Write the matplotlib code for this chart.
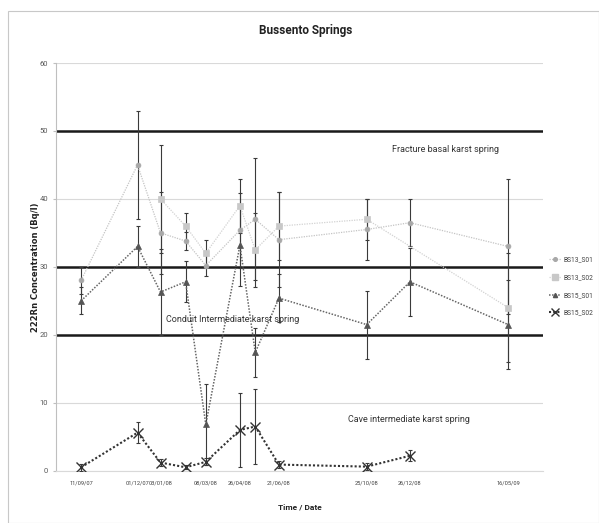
import matplotlib
matplotlib.use("Agg")
import matplotlib.pyplot as plt
import matplotlib.dates as mdates
from matplotlib.patches import Rectangle
import pandas as pd
import numpy as np

plt.rcParams["font.family"] = ["Roboto", "DejaVu Sans"]

DATES = ["11/09/07", "01/12/07", "03/01/08", "08/02/08", "08/03/08", "26/04/08",
         "18/05/08", "21/06/08", "25/10/08", "26/12/08", "16/05/09"]
TICK_DATES = ["11/09/07", "01/12/07", "03/01/08", "08/03/08", "26/04/08",
              "21/06/08", "25/10/08", "26/12/08", "16/05/09"]

# nan = no sample for that date
BS13_S01 = [28.0, 45.0, 35.0, 33.8, 30.2, 35.4, 37.0, 34.0, 35.5, 36.5, 33.0]
BS13_S01_ERR = [2.0, 8.0, 6.0, 1.3, 1.5, 5.5, 9.0, 7.0, 4.5, 3.5, 10.0]
BS13_S02 = [np.nan, np.nan, 40.0, 36.0, 32.0, 39.0, 32.5, 36.0, 37.0, np.nan, 24.0]
BS13_S02_ERR = [0, 0, 8.0, 2.0, 2.0, 4.0, 5.5, 5.0, 3.0, 0, 8.0]
BS15_S01 = [25.0, 33.0, 26.3, 27.8, 6.8, 33.2, 17.4, 25.4, 21.5, 27.8, 21.5]
BS15_S01_ERR = [2.0, 3.0, 6.3, 3.0, 6.0, 6.0, 3.6, 3.5, 5.0, 5.0, 6.5]
BS15_S02 = [0.5, 5.6, 1.2, 0.5, 1.3, 6.0, 6.5, 0.9, 0.6, 2.2, np.nan]
BS15_S02_ERR = [0.5, 1.5, 0.5, 0.3, 0.5, 5.5, 5.5, 0.5, 0.5, 0.8, 0]

LIMITS = [50, 30, 20]
NOTES = [("Fracture basal karst spring", "15/02/09", 47.3),
         ("Conduit Intermediate karst spring", "16/04/08", 22.2),
         ("Cave intermediate karst spring", "25/12/08", 7.6)]

x = pd.to_datetime(DATES, format="%d/%m/%y")

fig = plt.figure(figsize=(5.99, 5.23), dpi=100)
fig.patches.append(Rectangle((0.014, 0.0), 0.986, 0.979, transform=fig.transFigure,
                             fill=False, edgecolor="#c8c8c8", lw=0.8))
ax = fig.add_axes([0.0935, 0.100, 0.813, 0.7795])

series = [
    ("BS13_S01", BS13_S01, BS13_S01_ERR, "o", "#a8a8a8", "#c4c4c4", 3.5, 0.9),
    ("BS13_S02", BS13_S02, BS13_S02_ERR, "s", "#c8c8c8", "#d2d2d2", 5, 0.9),
    ("BS15_S01", BS15_S01, BS15_S01_ERR, "^", "#555555", "#666666", 4, 1.1),
    ("BS15_S02", BS15_S02, BS15_S02_ERR, "x", "#333333", "#333333", 7, 1.5),
]
for name, y, err, mk, mc, lc, ms, lw in series:
    y = np.array(y)
    ok = ~np.isnan(y)
    ax.errorbar(x[ok], y[ok], yerr=np.array(err)[ok], fmt="none", ecolor="#3a3a3a",
                elinewidth=0.8, capsize=1.5, capthick=0.8, zorder=3)
    ax.plot(x[ok], y[ok], linestyle=(0, (1, 1)), color=lc, lw=lw, zorder=4)
    ax.plot(x[ok], y[ok], linestyle="none", marker=mk, color=mc, ms=ms,
            mew=1.0 if mk == "x" else 0.5, zorder=5)
    # legend handle
    ax.plot([], [], linestyle=(0, (1, 1)), color=lc, lw=lw, marker=mk, ms=ms * 0.75,
            markerfacecolor=mc, markeredgecolor=mc, label=name)

for v in LIMITS:
    ax.axhline(v, color="#1a1a1a", lw=1.8, zorder=2)

for txt, d, v in NOTES:
    ax.text(pd.to_datetime(d, format="%d/%m/%y"), v, txt, ha="center", va="center",
            fontsize=6.5, color="#333333", zorder=6)

ax.set_ylim(0, 60)
ax.set_yticks(range(0, 61, 10))
ax.set_xlim(pd.Timestamp("2007-08-06"), pd.Timestamp("2009-07-05"))
ax.set_xticks(pd.to_datetime(TICK_DATES, format="%d/%m/%y"))
ax.xaxis.set_major_formatter(mdates.DateFormatter("%d/%m/%y"))
ax.grid(axis="y", color="#d9d9d9", lw=0.8, zorder=0)
for s in ["top", "right"]:
    ax.spines[s].set_visible(False)
ax.spines["left"].set_color("#bfbfbf")
ax.spines["bottom"].set_color("#d9d9d9")
ax.tick_params(axis="y", labelsize=5.5, colors="#595959", length=2, color="#bfbfbf")
ax.tick_params(axis="x", labelsize=4.1, colors="#404040", length=0, pad=7)

ax.set_ylabel("222Rn Concentration (Bq/l)", fontsize=6, fontweight="bold",
              family=["DejaVu Sans"], color="#222222", labelpad=0)
ax.set_xlabel("Time / Date", fontsize=6, fontweight="bold", color="#222222", labelpad=13)
fig.suptitle("Bussento Springs", x=0.51, y=0.955, fontsize=8.5, fontweight="bold",
             color="#222222")

fig.legend(loc="center left", bbox_to_anchor=(0.915, 0.452), frameon=False,
           fontsize=4.8, handlelength=1.8, labelspacing=1.6, handletextpad=0.3,
           labelcolor="#404040", borderaxespad=0, borderpad=0.2)

fig.savefig("out.png", dpi=100)
